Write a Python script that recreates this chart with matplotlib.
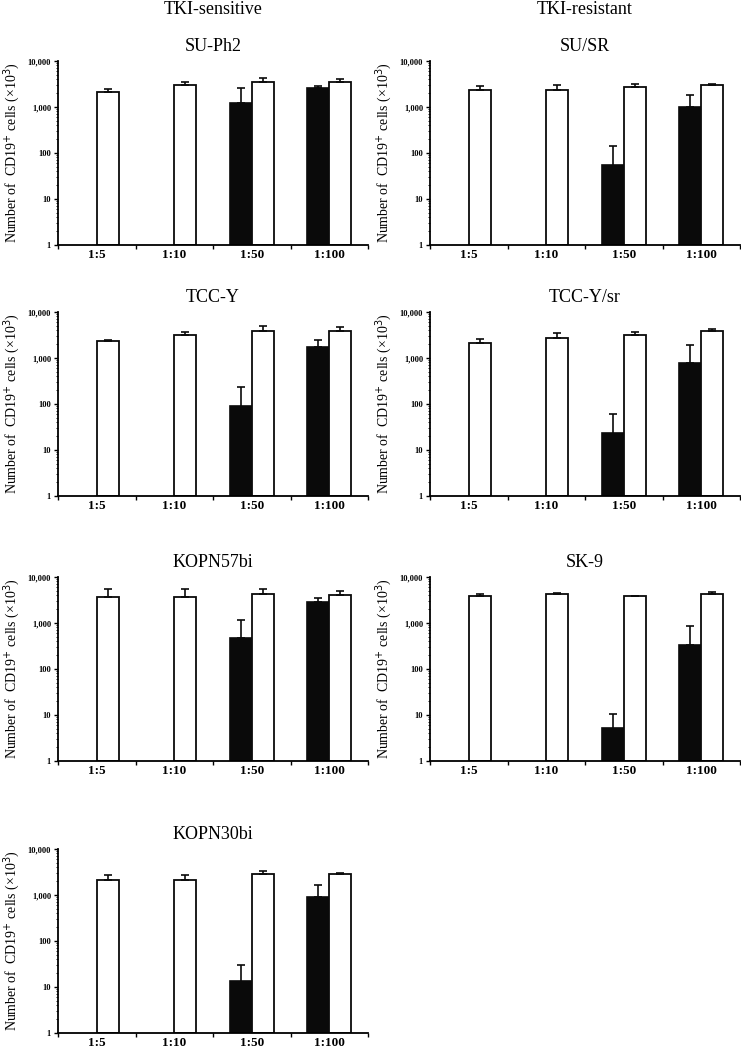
import numpy as np
import matplotlib
matplotlib.use("Agg")
import matplotlib.pyplot as plt
from matplotlib.ticker import FixedLocator, LogLocator, NullFormatter

plt.rcParams['font.family'] = ['Liberation Serif', 'DejaVu Serif']

ratios = ["1:5", "1:10", "1:50", "1:100"]
yticks = [1, 10, 100, 1000, 10000]
ytick_labels = ["1", "10", "100", "1,000", "10,000"]

# black bars (mean), black error tops, white bars (mean), white error tops
nan = np.nan
names = ["SU-Ph2", "SU/SR", "TCC-Y", "TCC-Y/sr", "KOPN57bi", "SK-9", "KOPN30bi"]

su_ph2_black = [nan, nan, 1240, 2630]
su_ph2_black_err = [nan, nan, 2630, 2870]
su_ph2_white = [2140, 2960, 3500, 3450]
su_ph2_white_err = [2430, 3550, 4350, 3980]

susr_black = [nan, nan, 53, 1000]
susr_black_err = [nan, nan, 140, 1780]
susr_white = [2290, 2350, 2690, 2970]
susr_white_err = [2870, 3020, 3170, 3170]

tccy_black = [nan, nan, 88, 1770]
tccy_black_err = [nan, nan, 236, 2450]
tccy_white = [2300, 3100, 3800, 3800]
tccy_white_err = [2500, 3640, 4900, 4650]

tccysr_black = [nan, nan, 22, 780]
tccysr_black_err = [nan, nan, 60, 1900]
tccysr_white = [2090, 2750, 3220, 3870]
tccysr_white_err = [2650, 3530, 3680, 4200]

kopn57_black = [nan, nan, 470, 2830]
kopn57_black_err = [nan, nan, 1170, 3460]
kopn57_white = [3700, 3700, 4270, 4000]
kopn57_white_err = [5600, 5350, 5400, 5060]

sk9_black = [nan, nan, 4.3, 327]
sk9_black_err = [nan, nan, 10.4, 860]
sk9_white = [3960, 4270, 3820, 4270]
sk9_white_err = [4370, 4560, 3960, 4810]

kopn30_black = [nan, nan, 12.8, 917]
kopn30_black_err = [nan, nan, 29.9, 1640]
kopn30_white = [2130, 2130, 2930, 2930]
kopn30_white_err = [2770, 2770, 3380, 3050]

panels = [
    (su_ph2_black, su_ph2_black_err, su_ph2_white, su_ph2_white_err),
    (susr_black, susr_black_err, susr_white, susr_white_err),
    (tccy_black, tccy_black_err, tccy_white, tccy_white_err),
    (tccysr_black, tccysr_black_err, tccysr_white, tccysr_white_err),
    (kopn57_black, kopn57_black_err, kopn57_white, kopn57_white_err),
    (sk9_black, sk9_black_err, sk9_white, sk9_white_err),
    (kopn30_black, kopn30_black_err, kopn30_white, kopn30_white_err),
]

W, H = 741, 1050
fig = plt.figure(figsize=(W / 100, H / 100), dpi=100)

col_left = [58, 430]
ax_w = 310
row_top = [61, 312, 577, 849]
ax_h = 184
w = 0.284
x = np.arange(len(ratios))


def draw_panel(ax, data, name):
    bk, bk_e, wh, wh_e = [np.array(d, dtype=float) for d in data]
    ax.set_yscale('log')
    ax.bar(x - w / 2, bk, width=w, bottom=1, color='#0a0a0a', edgecolor='#0a0a0a',
           linewidth=1.2, zorder=2)
    ax.bar(x + w / 2, wh, width=w, bottom=1, color='white', edgecolor='#0a0a0a',
           linewidth=1.3, zorder=2)
    ax.errorbar(x - w / 2, bk, yerr=[np.zeros(4), bk_e - bk], fmt='none',
                ecolor='#0a0a0a', elinewidth=1.2, capsize=3, capthick=1.2, zorder=3)
    ax.errorbar(x + w / 2, wh, yerr=[np.zeros(4), wh_e - wh], fmt='none',
                ecolor='#0a0a0a', elinewidth=1.2, capsize=3, capthick=1.2, zorder=3)
    ax.set_ylim(1, 10000)
    ax.set_xlim(-0.5, 3.5)
    for s in ['top', 'right']:
        ax.spines[s].set_visible(False)
    for s in ['left', 'bottom']:
        ax.spines[s].set_linewidth(1.3)
    ax.yaxis.set_major_locator(FixedLocator(yticks))
    ax.set_yticklabels(ytick_labels, fontsize=6, fontweight='bold')
    ax.yaxis.set_minor_locator(LogLocator(base=10, subs=np.arange(2, 10)))
    ax.yaxis.set_minor_formatter(NullFormatter())
    ax.tick_params(axis='y', which='major', length=3, width=1, pad=2)
    ax.tick_params(axis='y', which='minor', length=1.5, width=0.6)
    ax.set_xticks(np.arange(-0.5, 4, 1))
    ax.set_xticklabels([])
    ax.set_xticks(x, minor=True)
    ax.set_xticklabels(ratios, minor=True, fontsize=9.5, fontweight='bold')
    ax.tick_params(axis='x', which='major', length=3, width=1)
    ax.tick_params(axis='x', which='minor', length=0, pad=3)
    ax.set_ylabel("Number of  CD19$^{+}$ cells (\u00d710$^{3}$)", fontsize=10, labelpad=4)
    ax.set_title(name, fontsize=13, pad=7)


for i, (data, name) in enumerate(zip(panels, names)):
    r, c = divmod(i, 2)
    left = col_left[c]
    top = row_top[r]
    ax = fig.add_axes([left / W, 1 - (top + ax_h) / H, ax_w / W, ax_h / H])
    draw_panel(ax, data, name)

fig.text((58 + 155) / W, 1 - 10 / H, "TKI-sensitive", ha='center', va='center', fontsize=13)
fig.text((430 + 155) / W, 1 - 10 / H, "TKI-resistant", ha='center', va='center', fontsize=13)

fig.savefig("out.png", dpi=100)
